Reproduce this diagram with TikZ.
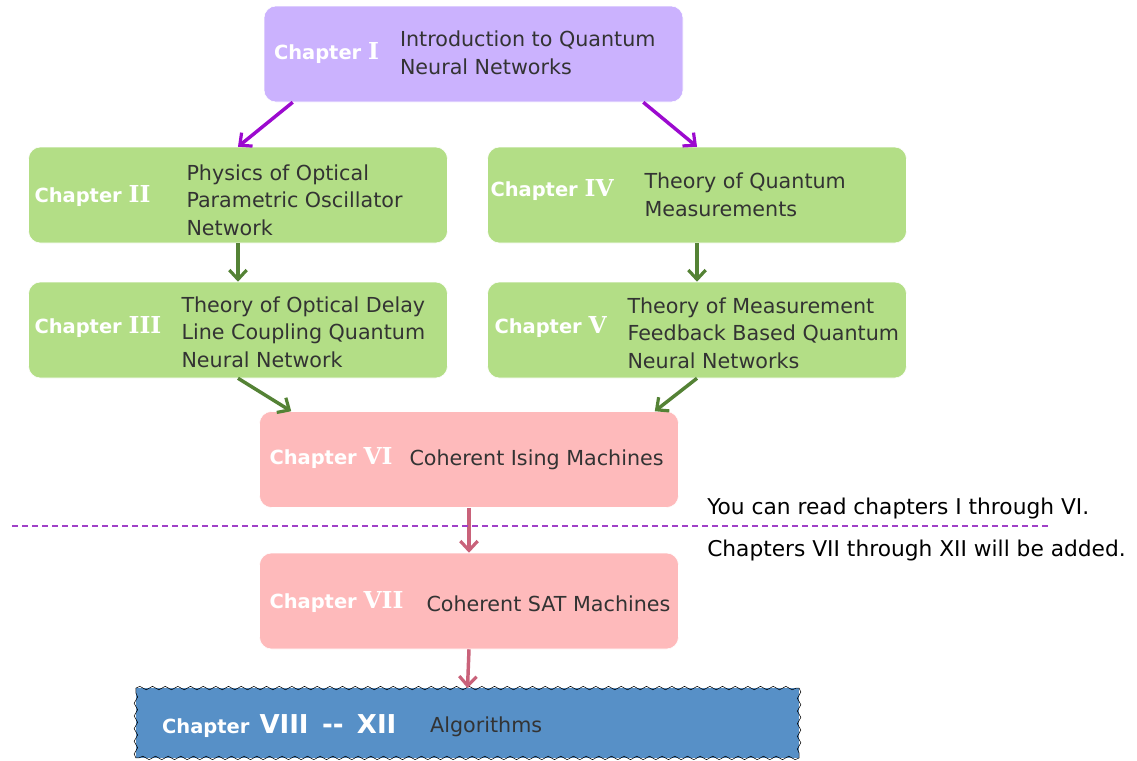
\documentclass[tikz,border=0pt]{standalone}
\usepackage{fontspec}
\setmainfont{DejaVu Sans}
\newfontfamily\numfont{DejaVu Serif}
\usepackage{tikz}
\usetikzlibrary{arrows.meta,positioning,calc,decorations.pathmorphing}
\definecolor{chIntro}{HTML}{CBB2FE}
\definecolor{chTheory}{HTML}{B3DE86}
\definecolor{chMachine}{HTML}{FEBABB}
\definecolor{chAlgo}{HTML}{5790C7}
\definecolor{chText}{HTML}{333333}
\definecolor{arIntro}{HTML}{9C0ACF}
\definecolor{arTheory}{HTML}{548235}
\definecolor{arMachine}{HTML}{C9627A}
\definecolor{sepLine}{HTML}{A040C8}
\tikzset{
    chBox/.style={
        rectangle,
        draw=white,
        rounded corners=9pt,
        minimum width=314.25pt,
        minimum height=72pt,
        fill=#1
    },
    chLabel/.style={
        anchor=west,
        inner sep=0pt,
        text=white,
        font=\fontsize{14.6}{17}\selectfont\bfseries
    },
    chTitle/.style={
        anchor=west,
        inner sep=0pt,
        align=left,
        text=chText,
        font=\fontsize{15.5}{20.6}\selectfont
    },
    wavyEdge/.style={draw=black, decorate, decoration={snake, segment length=9.5pt, amplitude=1.3pt}},
    % Arrows
    chArrow/.style={-{Straight Barb[length=7pt,width=13pt,line width=2.4pt]}, line width=2.6pt, draw=#1},
    noteText/.style={anchor=west, inner sep=0pt, font=\fontsize{16.3}{19}\selectfont}
}
\newcommand{\rnum}[1]{{\numfont\fontsize{17.5}{18}\selectfont #1}}
\begin{document}
\begin{tikzpicture}[x=0.75pt, y=-0.75pt]
\useasboundingbox (0,0) rectangle (1137,760);

\node[chBox=chIntro] (c1) at (473.5,54) {};
\node[chBox=chTheory] (c2) at (238,195) {};
\node[chBox=chTheory] (c4) at (697,195) {};
\node[chBox=chTheory] (c3) at (238,330) {};
\node[chBox=chTheory] (c5) at (697,330) {};
\node[chBox=chMachine] (c6) at (469,459.5) {};
\node[chBox=chMachine] (c7) at (469,601) {};
\node[fill=chAlgo, minimum width=497pt, minimum height=52pt] (c8) at (467.5,723) {};
\draw[wavyEdge] (c8.north west) -- (c8.north east);
\draw[wavyEdge] (c8.north east) -- (c8.south east);
\draw[wavyEdge] (c8.south east) -- (c8.south west);
\draw[wavyEdge] (c8.south west) -- (c8.north west);

\node[chLabel] (c1l) at ($(c1.west)+(10,-1)$) {Chapter \rnum{I}};
\node[chTitle] (c1t) at ($(c1.west)+(136,-1)$) {Introduction to Quantum\\Neural Networks};
\node[chLabel] (c2l) at ($(c2.west)+(6,1)$) {Chapter \rnum{II}};
\node[chTitle] (c2t) at ($(c2.west)+(158,5)$) {Physics of Optical\\Parametric Oscillator\\Network};
\node[chLabel] (c3l) at ($(c3.west)+(6,-3)$) {Chapter \rnum{III}};
\node[chTitle] (c3t) at ($(c3.west)+(153,2)$) {Theory of Optical Delay\\Line Coupling Quantum\\Neural Network};
\node[chLabel] (c4l) at ($(c4.west)+(3,-5)$) {Chapter \rnum{IV}};
\node[chTitle] (c4t) at ($(c4.west)+(157,0)$) {Theory of Quantum\\Measurements};
\node[chLabel] (c5l) at ($(c5.west)+(7,-3)$) {Chapter \rnum{V}};
\node[chTitle] (c5t) at ($(c5.west)+(140,3)$) {Theory of Measurement\\Feedback Based Quantum\\Neural Networks};
\node[chLabel] (c6l) at ($(c6.west)+(10,-1)$) {Chapter \rnum{VI}};
\node[chTitle] (c6t) at ($(c6.west)+(150,0)$) {Coherent Ising Machines};
\node[chLabel] (c7l) at ($(c7.west)+(10,1)$) {Chapter \rnum{VII}};
\node[chTitle] (c7t) at ($(c7.west)+(167,3)$) {Coherent SAT Machines};
\node[chLabel] (c8l) at ($(c8.west)+(26,3)$) {Chapter\, {\fontsize{19.5}{20}\selectfont VIII\, -{}-\, XII}};
\node[chTitle] (c8t) at ($(c8.west)+(294,4)$) {Algorithms};

\draw[chArrow=arIntro] ($(c1.south west)+(29,0)$) -- (c2.north);
\draw[chArrow=arIntro] ($(c1.south east)+(-40,0)$) -- (c4.north);
\draw[chArrow=arTheory] (c2.south) -- (c3.north);
\draw[chArrow=arTheory] (c4.south) -- (c5.north);
\draw[chArrow=arTheory] (c3.south) -- ($(c6.north west)+(32,0)$);
\draw[chArrow=arTheory] (c5.south) -- ($(c6.north east)+(-24,0)$);
\draw[chArrow=arMachine] (c6.south) -- (c7.north);
\draw[chArrow=arMachine] (c7.south) -- (c8.north);

% release line
\coordinate (sepL) at (12,526);
\coordinate (sepR) at (1050,526);
\draw[sepLine, line width=1pt, dash pattern=on 4.5pt off 3pt] (sepL) -- (sepR);
\node[noteText] (read) at (707,508) {You can read chapters I through VI.};
\node[noteText] (added) at (707,550) {Chapters VII through XII will be added.};
\end{tikzpicture}
\end{document}
